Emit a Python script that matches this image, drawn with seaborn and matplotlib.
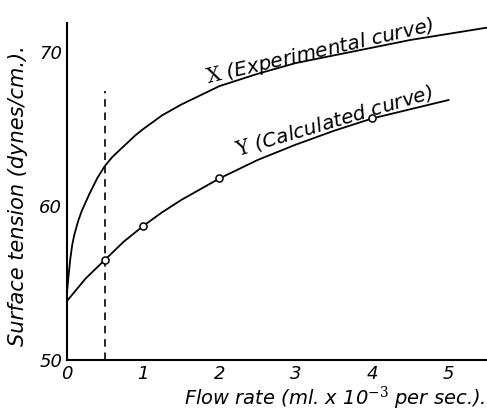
import matplotlib
matplotlib.use("Agg")
import seaborn as sns
from matplotlib import pyplot as plt

# experimental curve X
exp_flow = [0, 0.01, 0.025, 0.05, 0.075, 0.1, 0.15, 0.2, 0.3, 0.4, 0.5, 0.6,
            0.75, 0.9, 1.0, 1.25, 1.5, 1.75, 2.0, 2.5, 3.0, 3.5, 4.0, 4.5,
            5.0, 5.5]
exp_tension = [53.8, 54.6, 55.4, 56.6, 57.5, 58.1, 59.0, 59.7, 60.8, 61.8,
               62.6, 63.2, 63.9, 64.6, 65.0, 65.9, 66.6, 67.2, 67.8, 68.6,
               69.3, 69.8, 70.3, 70.8, 71.2, 71.6]

# calculated curve Y
calc_flow = [0, 0.25, 0.5, 0.75, 1.0, 1.25, 1.5, 2.0, 2.5, 3.0, 3.5, 4.0,
             4.5, 5.0]
calc_tension = [53.8, 55.3, 56.5, 57.7, 58.7, 59.6, 60.4, 61.8, 63.0, 64.0,
                64.9, 65.7, 66.3, 66.9]

# calculated points drawn as open circles
point_flow = [0.5, 1.0, 2.0, 4.0]
point_tension = [56.5, 58.7, 61.8, 65.7]

# dashed marker line
dash_flow = 0.5
dash_top = 67.5

x_ticks = [0, 1, 2, 3, 4, 5]
y_ticks = [50, 60, 70]

sns.set_style("white")
plt.rcParams["font.family"] = ["DejaVu Sans"]
plt.rcParams["mathtext.fontset"] = "custom"
plt.rcParams["mathtext.rm"] = "DejaVu Serif"
for key in ["text.color", "axes.labelcolor", "xtick.color", "ytick.color"]:
    plt.rcParams[key] = "black"

fig = plt.figure(figsize=(4.87, 4.11), dpi=100)
ax = fig.add_axes([0.1366, 0.124, 0.8634, 0.82])

sns.lineplot(x=exp_flow, y=exp_tension, ax=ax, color="black", lw=1.3,
             sort=False, estimator=None)
sns.lineplot(x=calc_flow, y=calc_tension, ax=ax, color="black", lw=1.3,
             sort=False, estimator=None)
sns.scatterplot(x=point_flow, y=point_tension, ax=ax, marker="o", s=26,
                facecolor="white", edgecolor="black", linewidth=1.1, zorder=3)
ax.vlines(dash_flow, 50, dash_top, colors="black", lw=1.2,
          linestyles=(0, (4.5, 3.5)))

ax.set_xlim(0, 5.5)
ax.set_ylim(50, 71.9)
ax.set_xticks(x_ticks)
ax.set_yticks(y_ticks)
ax.set_xticklabels([str(t) for t in x_ticks], fontstyle="italic", fontsize=13)
ax.set_yticklabels([str(t) for t in y_ticks], fontstyle="italic", fontsize=13)
ax.tick_params(axis="x", direction="inout", length=7, width=1.2, pad=0)
ax.tick_params(axis="y", direction="in", length=5, width=1.2, pad=3)

sns.despine(ax=ax)
for side in ["left", "bottom"]:
    ax.spines[side].set_linewidth(1.5)
    ax.spines[side].set_color("black")

ax.text(1.85, 68.0, r"$\mathrm{X}$ (Experimental curve)", rotation=13,
        rotation_mode="anchor", ha="left", va="baseline", fontsize=14.5,
        fontstyle="italic")
ax.text(2.24, 63.25, r"$\mathrm{Y}$ (Calculated curve)", rotation=16.5,
        rotation_mode="anchor", ha="left", va="baseline", fontsize=14.5,
        fontstyle="italic")

fig.text(0.996, 0.016, r"Flow rate (ml. x 10$^{-3}$ per sec.).", ha="right",
         va="baseline", fontsize=14, fontstyle="italic")
fig.text(0.037, 0.523, "Surface tension (dynes/cm.).", rotation=90,
         ha="center", va="center", fontsize=15, fontstyle="italic")

fig.savefig("out.png", dpi=100)
